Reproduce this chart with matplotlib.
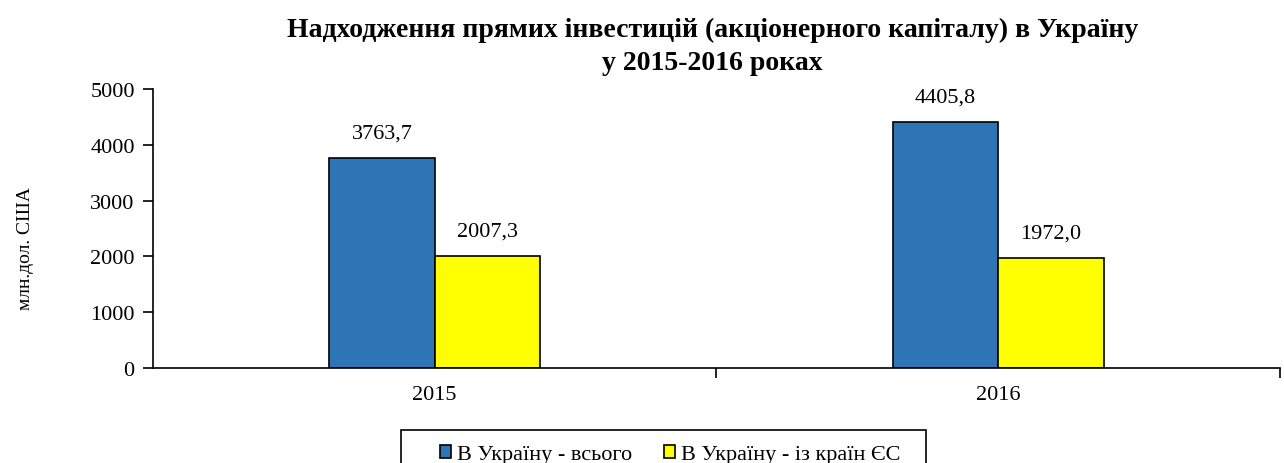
import numpy as np
import matplotlib.pyplot as plt
from matplotlib.patches import Rectangle

years = ['2015', '2016']
total = [3763.7, 4405.8]
eu = [2007.3, 1972.0]
series_names = ['В Україну - всього', 'В Україну - із країн ЄС']
colors = ['#2E75B6', '#FFFF00']

plt.rcParams['font.family'] = ['Liberation Serif', 'DejaVu Serif']

fig = plt.figure(figsize=(12.84, 4.64), dpi=100)
ax = fig.add_axes([0.119, 0.205, 0.878, 0.601])

x = np.arange(len(years))
w = 0.187
bars1 = ax.bar(x - w / 2, total, w, color=colors[0], edgecolor='black', linewidth=1.2,
               label=series_names[0])
bars2 = ax.bar(x + w / 2, eu, w, color=colors[1], edgecolor='black', linewidth=1.2,
               label=series_names[1])

# value labels above bars
for bars, vals in [(bars1, total), (bars2, eu)]:
    for b, v in zip(bars, vals):
        ax.annotate(f'{v:.1f}'.replace('.', ','), (b.get_x() + b.get_width() / 2, v),
                    xytext=(0, 11), textcoords='offset points', ha='center', va='bottom',
                    fontsize=16)

ax.set_xlim(-0.5, 1.5)
ax.set_ylim(0, 5000)
ax.set_yticks(np.arange(0, 5001, 1000))
ax.set_xticks(x)
ax.set_xticklabels(years)
ax.set_xticks([0.5, 1.5], minor=True)
ax.tick_params(axis='x', which='major', length=0, pad=12, labelsize=16)
ax.tick_params(axis='x', which='minor', length=7, width=1.2, direction='out')
ax.tick_params(axis='y', length=7, width=1.2, direction='out', labelsize=16, pad=6)

for s in ['top', 'right']:
    ax.spines[s].set_visible(False)
for s in ['left', 'bottom']:
    ax.spines[s].set_linewidth(1.2)

ax.set_ylabel('млн.дол. США', fontsize=14)
ax.yaxis.set_label_coords(-0.105, 0.43)

fig.text(0.555, 0.962, 'Надходження прямих інвестицій (акціонерного капіталу) в Україну\nу 2015-2016 роках',
         ha='center', va='top', fontsize=20, fontweight='bold', linespacing=1.45)

# legend box (cut off at the bottom edge, as in the original)
fig.patches.append(Rectangle((401 / 1284, -0.05), 525 / 1284, 0.05 + (464 - 431) / 464,
                             transform=fig.transFigure, fill=False, edgecolor='black',
                             linewidth=1.2))
leg = fig.legend(loc='upper left', bbox_to_anchor=(440 / 1284, 1 - 446 / 464), ncol=2,
                 fontsize=16, frameon=False, handlelength=0.5, handleheight=0.5,
                 handletextpad=0.25, columnspacing=1.45, borderpad=0, borderaxespad=0)

fig.savefig('out.png', dpi=100)
